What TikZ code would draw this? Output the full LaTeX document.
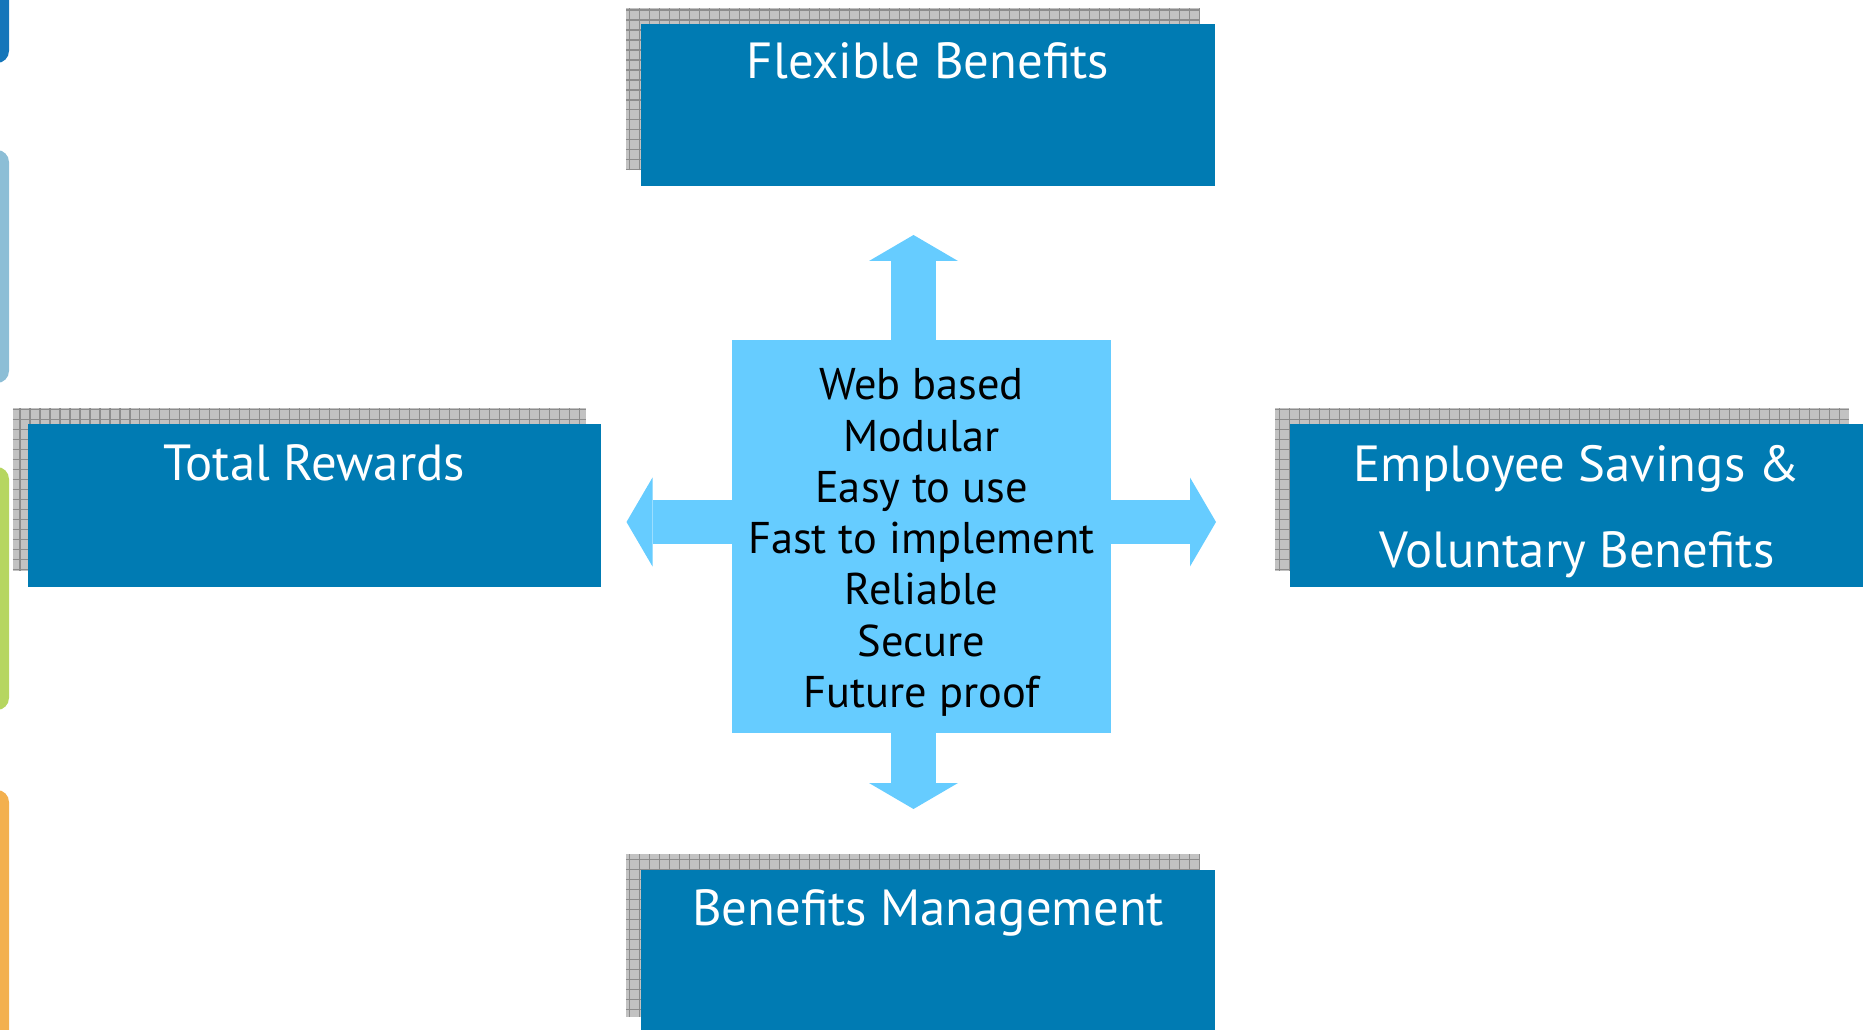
\documentclass[tikz,border=0pt]{standalone}
\usepackage{fontspec}
\setmainfont{PT Sans}
\usetikzlibrary{arrows.meta,backgrounds,calc,positioning}

\definecolor{panelblue}{RGB}{0,123,179}
\definecolor{hubblue}{RGB}{102,204,255}
\definecolor{shadegray}{RGB}{194,194,194}
\definecolor{gridgray}{RGB}{140,140,140}
\definecolor{tabdark}{RGB}{20,118,186}
\definecolor{tablight}{RGB}{140,190,214}
\definecolor{tabgreen}{RGB}{182,214,96}
\definecolor{taborange}{RGB}{243,176,78}

\begin{document}
\begin{tikzpicture}[x=0.02cm,y=-0.02cm]
    \tikzstyle{panel}=[rectangle, fill=panelblue, inner sep=0pt, outer sep=0pt, minimum width=11.48cm, minimum height=3.26cm]
    \tikzstyle{title}=[text=white, inner sep=0pt, font=\fontsize{28.9}{34}\selectfont]
    \tikzstyle{hub}=[rectangle, fill=hubblue, inner sep=0pt, outer sep=0pt, minimum width=7.58cm, minimum height=7.86cm]
    \tikzstyle{hubtext}=[inner sep=0pt, align=center, font=\fontsize{25.3}{29.2}\selectfont]
    \tikzstyle{spoke}=[draw=hubblue, line width=0.9cm, -{Triangle[width=1.78cm,length=0.52cm,line width=0pt]}]
    \tikzstyle{tab}=[rounded corners=0.24cm]

    \useasboundingbox (0,0) rectangle (1863,1030);
    \clip (0,0) rectangle (1863,1030);

    % tabs on the left edge
    \fill[tab, tabdark] (-40,-40) rectangle (9,63);
    \fill[tab, tablight] (-40,150) rectangle (9,383);
    \fill[tab, tabgreen] (-40,467) rectangle (9,710);
    \fill[tab, taborange] (-40,790) rectangle (9,1080);

    \node[panel] (flex) at (928,105) {};
    \node[panel] (total) at (314.5,505.5) {};
    \node[panel] (savings) at (1577,505.5) {};
    \node[panel] (mgmt) at (928,951.5) {};

    \node[title, anchor=base] (flext) at ($(flex.north)+(0,55)$) {Flexible Benefits};
    \node[title, anchor=base] (totalt) at ($(total.north)+(0,56)$) {Total Rewards};
    \node[title, anchor=base] (savt) at ($(savings.north)+(0,57)$) {Employee Savings \&};
    \node[title, anchor=base] (volt) at ($(savings.north)+(0,143)$) {Voluntary Benefits};
    \node[title, anchor=base] (mgmtt) at ($(mgmt.north)+(0,55)$) {Benefits Management};

    \node[hub] (mid) at (921.5,536.5) {};
    \node[hubtext] (midt) at ($(mid)+(0,6)$) {Web based\\Modular\\Easy to use\\Fast to implement\\Reliable\\Secure\\Future proof};

    \coordinate (up) at (913.5,235);
    \coordinate (dn) at (913.5,809);
    \coordinate (lt) at (626.5,522);
    \coordinate (rt) at (1216,522);

    \draw[spoke] (mid.north -| up) -- (up);
    \draw[spoke] (mid.south -| dn) -- (dn);
    \draw[spoke] (mid.west |- lt) -- (lt);
    \draw[spoke] (mid.east |- rt) -- (rt);

    % grid shadows behind the panels
    \begin{scope}[on background layer]
      \foreach \b in {flex,total,savings,mgmt} {
        \begin{scope}
          \clip ($(\b.south west)+(-15,-16)$) rectangle ($(\b.north east)+(-15,-16)$);
          \fill[shadegray] ($(\b.south west)+(-15,-16)$) rectangle ($(\b.north east)+(-15,-16)$);
          \draw[gridgray, step=0.2cm, line width=0.6pt] ($(\b.south west)+(-15,-16)$) grid ($(\b.north east)+(-15,-16)$);
        \end{scope}
      }
    \end{scope}
\end{tikzpicture}
\end{document}
